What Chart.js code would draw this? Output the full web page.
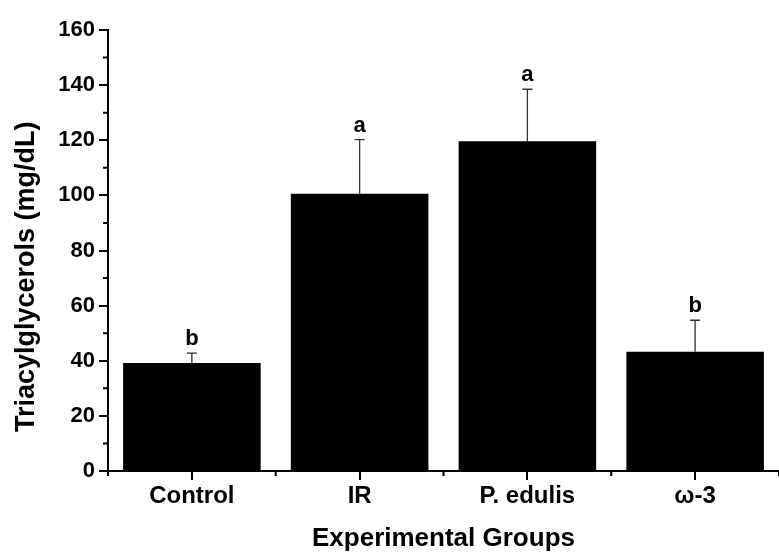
<!DOCTYPE html>
<html>
<head>
<meta charset="utf-8">
<script src="https://cdn.jsdelivr.net/npm/chart.js@4.4.1/dist/chart.umd.min.js"></script>
<style>
  html, body { margin: 0; padding: 0; background: #fff; }
  #wrap { width: 779px; height: 554px; }
</style>
</head>
<body>
<div id="wrap"><canvas id="tg-chart"></canvas></div>
<script>
const groups = ['Control', 'IR', 'P. edulis', 'ω-3']
const means = [39.2, 100.6, 119.6, 43.3]
const errors = [3.6, 19.6, 18.9, 11.4]
const letters = ['b', 'a', 'a', 'b']
const yTicks = [0, 20, 40, 60, 80, 100, 120, 140, 160]

const fam = "'Liberation Sans', Arial, sans-serif"

// error bars + significance letters, and the short minor ticks
const extras = {
    id: 'extras',
    afterDatasetsDraw(chart) {
        const ctx = chart.ctx
        const y = chart.scales.y
        const bars = chart.getDatasetMeta(0).data
        ctx.save()
        bars.forEach((bar, i) => {
            const top = y.getPixelForValue(means[i] + errors[i])
            ctx.strokeStyle = '#333'
            ctx.lineWidth = 1.3
            ctx.beginPath()
            ctx.moveTo(bar.x, bar.y)
            ctx.lineTo(bar.x, top)
            ctx.moveTo(bar.x - 5, top)
            ctx.lineTo(bar.x + 5, top)
            ctx.stroke()
            ctx.fillStyle = '#000'
            ctx.font = 'bold 22px ' + fam
            ctx.textAlign = 'center'
            ctx.textBaseline = 'alphabetic'
            ctx.fillText(letters[i], bar.x, top - 8)
        })
        ctx.restore()
    },
    afterDraw(chart) {
        const ctx = chart.ctx
        const {x, y} = chart.scales
        const area = chart.chartArea
        ctx.save()
        ctx.strokeStyle = '#000'
        ctx.lineWidth = 2
        ctx.beginPath()
        for (let i = 0; i < yTicks.length - 1; i++) {
            const py = y.getPixelForValue((yTicks[i] + yTicks[i + 1]) / 2)
            ctx.moveTo(area.left - 5, py)
            ctx.lineTo(area.left, py)
        }
        for (let i = 0; i <= groups.length; i++) {
            const px = x.getPixelForValue(i - 0.5)
            ctx.moveTo(px, area.bottom)
            ctx.lineTo(px, area.bottom + 5)
        }
        ctx.stroke()
        ctx.restore()
    }
}

new Chart(document.getElementById('tg-chart'), {
    type: 'bar',
    data: {
        labels: groups,
        datasets: [
            {
                label: 'Triacylglycerols',
                backgroundColor: '#000',
                borderColor: '#222',
                borderWidth: 0,
                barPercentage: 0.82,
                categoryPercentage: 1,
                data: means
            }
        ]
    },
    options: {
        responsive: true,
        maintainAspectRatio: false,
        animation: false,
        layout: {
            padding: { top: 30, right: 0, bottom: 0, left: 0 }
        },
        plugins: {
            legend: { display: false },
            tooltip: { enabled: false }
        },
        scales: {
            x: {
                afterFit: (s) => { s.height = 83 },
                grid: {
                    offset: false,
                    drawOnChartArea: false,
                    drawTicks: true,
                    tickLength: 9,
                    lineWidth: 2,
                    color: '#000'
                },
                border: { display: true, color: '#000', width: 2 },
                ticks: {
                    color: '#000',
                    padding: 2,
                    font: { family: fam, size: 24, weight: 'bold' }
                },
                title: {
                    display: true,
                    text: 'Experimental Groups',
                    color: '#000',
                    padding: { top: 0, bottom: 0 },
                    font: { family: fam, size: 26, weight: 'bold' }
                }
            },
            y: {
                min: 0,
                max: 160,
                afterFit: (s) => { s.width = 108 },
                afterBuildTicks: (s) => { s.ticks = yTicks.map(v => ({ value: v })) },
                grid: {
                    drawOnChartArea: false,
                    drawTicks: true,
                    tickLength: 9,
                    lineWidth: 2,
                    color: '#000'
                },
                border: { display: true, color: '#000', width: 2 },
                ticks: {
                    color: '#000',
                    padding: 4,
                    font: { family: fam, size: 22, weight: 'bold' }
                },
                title: {
                    display: true,
                    text: 'Triacylglycerols (mg/dL)       ',
                    color: '#000',
                    padding: { top: 10, bottom: 0 },
                    font: { family: fam, size: 27, weight: 'bold' }
                }
            }
        }
    },
    plugins: [extras]
})
</script>
</body>
</html>
